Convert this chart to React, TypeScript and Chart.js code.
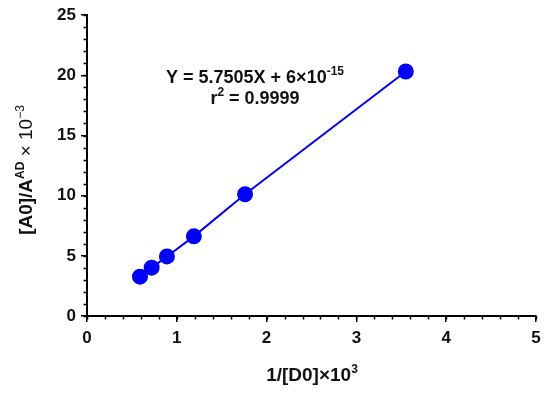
import React, { useEffect, useRef } from "react";
import { Chart, registerables } from "chart.js";

Chart.register(...registerables);

const xValues = [0.59, 0.72, 0.89, 1.19, 1.76, 3.55];
const yValues = [3.27, 4.02, 4.95, 6.62, 10.12, 20.32];
const xTicks = [0, 1, 2, 3, 4, 5];
const yTicks = [0, 5, 10, 15, 20, 25];
const equationLine1 = [
  { t: "Y = 5.7505X + 6\u00d710", sup: false },
  { t: "-15", sup: true },
];
const equationLine2 = [
  { t: "r", sup: false },
  { t: "2", sup: true },
  { t: " = 0.9999", sup: false },
];

const FONT = "'Liberation Sans', Arial, sans-serif";

type Seg = { t: string; sup: boolean; weight?: string };

function drawRich(ctx: CanvasRenderingContext2D, segs: Seg[], x: number, y: number, size: number) {
  const supSize = Math.round(size * 0.65);
  const fontFor = (s: Seg) => `${s.weight || "bold"} ${s.sup ? supSize : size}px ${FONT}`;
  let total = 0;
  const widths = segs.map((s) => {
    ctx.font = fontFor(s);
    const w = ctx.measureText(s.t).width;
    total += w;
    return w;
  });
  let cx = x - total / 2;
  ctx.textAlign = "left";
  ctx.textBaseline = "alphabetic";
  segs.forEach((s, i) => {
    ctx.font = fontFor(s);
    ctx.fillText(s.t, cx, s.sup ? y - size * 0.42 : y);
    cx += widths[i];
  });
}

const annotationPlugin = {
  id: "customText",
  afterDraw(chart: any) {
    const ctx: CanvasRenderingContext2D = chart.ctx;
    const xs = chart.scales.x;
    const ys = chart.scales.y;
    ctx.save();
    ctx.strokeStyle = "#000";
    ctx.lineWidth = 1.5;
    // minor ticks
    for (let v = 0; v <= 5.0001; v += 0.2) {
      const px = Math.round(xs.getPixelForValue(v)) + 0.5;
      ctx.beginPath();
      ctx.moveTo(px, ys.bottom);
      ctx.lineTo(px, ys.bottom + 3.5);
      ctx.stroke();
    }
    for (let v = 0; v <= 25.0001; v += 1) {
      const py = Math.round(ys.getPixelForValue(v)) + 0.5;
      ctx.beginPath();
      ctx.moveTo(xs.left, py);
      ctx.lineTo(xs.left - 3.5, py);
      ctx.stroke();
    }
    ctx.fillStyle = "#111";
    drawRich(ctx, equationLine1, 255, 83, 18);
    drawRich(ctx, equationLine2, 255, 104, 18);
    // x title
    drawRich(
      ctx,
      [
        { t: "1/[D0]\u00d710", sup: false },
        { t: "3", sup: true },
      ],
      312,
      381,
      19
    );
    // y title
    ctx.translate(32, 170);
    ctx.rotate(-Math.PI / 2);
    drawRich(
      ctx,
      [
        { t: "[A0]/A", sup: false },
        { t: "AD", sup: true },
        { t: " \u00d7 10", sup: false, weight: "normal" },
        { t: "\u22123", sup: true, weight: "normal" },
      ],
      0,
      0,
      19
    );
    ctx.restore();
  },
};

export default function App() {
  const ref = useRef<HTMLCanvasElement | null>(null);
  useEffect(() => {
    if (!ref.current) return;
    const chart = new Chart(ref.current, {
      type: "scatter",
      data: {
        datasets: [
          {
            data: xValues.map((x, i) => ({ x, y: yValues[i] })),
            showLine: true,
            borderColor: "rgb(0,0,255)",
            backgroundColor: "rgb(0,0,255)",
            borderWidth: 2,
            pointRadius: 7,
            pointHoverRadius: 7,
          },
        ],
      },
      options: {
        animation: false,
        responsive: false,
        devicePixelRatio: 1,
        layout: { padding: { top: 15, right: 14, left: 0, bottom: 0 } },
        plugins: { legend: { display: false }, tooltip: { enabled: false } },
        scales: {
          x: {
            type: "linear",
            min: 0,
            max: 5,
            afterFit: (s: any) => {
              s.height = 82;
            },
            afterBuildTicks: (s: any) => {
              s.ticks = xTicks.map((v) => ({ value: v }));
            },
            ticks: {
              color: "#111",
              font: { family: FONT, size: 17, weight: "bold" },
              padding: 6,
            },
            grid: {
              display: true,
              drawOnChartArea: false,
              drawTicks: true,
              tickLength: 6,
              color: "#000",
              lineWidth: 1.5,
            },
            border: { display: true, color: "#000", width: 2 },
          },
          y: {
            type: "linear",
            min: 0,
            max: 25,
            afterFit: (s: any) => {
              s.width = 87;
            },
            afterBuildTicks: (s: any) => {
              s.ticks = yTicks.map((v) => ({ value: v }));
            },
            ticks: {
              color: "#111",
              font: { family: FONT, size: 17, weight: "bold" },
              padding: 5,
            },
            grid: {
              display: true,
              drawOnChartArea: false,
              drawTicks: true,
              tickLength: 6,
              color: "#000",
              lineWidth: 1.5,
            },
            border: { display: true, color: "#000", width: 2 },
          },
        },
      },
      plugins: [annotationPlugin],
    });
    return () => chart.destroy();
  }, []);
  return (
    <div style={{ position: "absolute", left: 0, top: 0, width: 550, height: 398, background: "#fff" }}>
      <canvas ref={ref} width={550} height={398} style={{ width: 550, height: 398 }} />
    </div>
  );
}
